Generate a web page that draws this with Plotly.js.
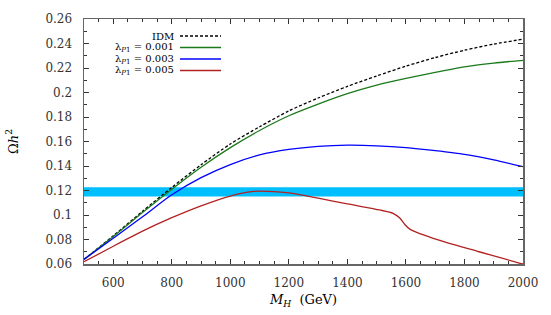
<!DOCTYPE html>
<html>
<head>
<meta charset="utf-8">
<script src="https://cdn.plot.ly/plotly-3.0.1.min.js"></script>
<style>html,body{margin:0;padding:0;background:#fff;}#chart{width:551px;height:315px;}</style>
</head>
<body>
<div id="chart"></div>
<script>
// Data
const idmM   = [500, 600, 700, 800, 900, 1000, 1100, 1200, 1300, 1400, 1500, 1600, 1700, 1800, 1900, 2000];
const idmOm  = [0.0638, 0.083, 0.103, 0.1225, 0.141, 0.158, 0.172, 0.185, 0.1955, 0.205, 0.2135, 0.2215, 0.2285, 0.2345, 0.2395, 0.2435];

const l001M  = [500, 600, 700, 800, 900, 1000, 1100, 1200, 1300, 1400, 1500, 1600, 1700, 1800, 1900, 2000];
const l001Om = [0.0638, 0.0825, 0.102, 0.121, 0.139, 0.155, 0.169, 0.181, 0.1905, 0.199, 0.206, 0.2115, 0.2165, 0.221, 0.224, 0.2263];

const l003M  = [500, 600, 700, 800, 900, 1000, 1100, 1200, 1300, 1400, 1500, 1600, 1700, 1800, 1900, 2000];
const l003Om = [0.0638, 0.081, 0.0985, 0.1165, 0.1305, 0.1412, 0.149, 0.1535, 0.156, 0.157, 0.1565, 0.155, 0.1525, 0.1495, 0.145, 0.1394];

const l005M  = [500, 600, 700, 800, 900, 1000, 1080, 1200, 1300, 1400, 1510, 1556, 1579, 1596, 1613, 1660, 1740, 1850, 1990, 2000];
const l005Om = [0.0618, 0.0745, 0.0868, 0.0978, 0.1075, 0.1155, 0.1193, 0.118, 0.1138, 0.109, 0.1041, 0.1014, 0.0975, 0.0922, 0.0885, 0.0837, 0.0774, 0.070, 0.0606, 0.060];

const bandLow = 0.1152, bandHigh = 0.1226;

const names  = ['IDM', 'λ<sub><i>P</i>1</sub> = 0.001', 'λ<sub><i>P</i>1</sub> = 0.003', 'λ<sub><i>P</i>1</sub> = 0.005'];
const colors = ['#000000', '#1a7a1a', '#0000ff', '#b22222'];
const dashes = ['3px,2px', 'solid', 'solid', 'solid'];
const xs = [idmM, l001M, l003M, l005M];
const ys = [idmOm, l001Om, l003Om, l005Om];

const font = 'DejaVu Serif';

const traces = xs.map((x, i) => ({
  x: x, y: ys[i], mode: 'lines', type: 'scatter', name: names[i],
  line: {color: colors[i], width: 1.3, dash: dashes[i], shape: 'spline', smoothing: 0.7},
  showlegend: false, hoverinfo: 'skip'
}));

// custom legend (text right-aligned, sample line on the right)
const legY = [0.9306, 0.8837, 0.8367, 0.7898];
const annotations = names.map((n, i) => ({
  xref: 'paper', yref: 'paper', x: 0.2096, y: legY[i], xanchor: 'right', yanchor: 'middle',
  text: n, showarrow: false, font: {family: font, size: 10, color: '#000'}
}));
const shapes = [{
  type: 'rect', xref: 'paper', yref: 'y', x0: 0, x1: 1, y0: bandLow, y1: bandHigh,
  fillcolor: '#00bfff', line: {width: 0}, layer: 'below'
}].concat(names.map((n, i) => ({
  type: 'line', xref: 'paper', yref: 'paper', x0: 0.2187, x1: 0.3121, y0: legY[i], y1: legY[i],
  line: {color: colors[i], width: 1.3, dash: dashes[i]}
})));

const axisCommon = {
  showgrid: false, zeroline: false, showline: true, mirror: 'allticks',
  linecolor: '#666', linewidth: 1.5, ticks: 'inside', ticklen: 5, tickcolor: '#333', tickwidth: 1,
  tickfont: {family: font, size: 12, color: '#333'}
};

const layout = {
  width: 551, height: 315,
  font: {family: font},
  margin: {l: 84, r: 28, t: 19, b: 51},
  paper_bgcolor: '#fff', plot_bgcolor: '#fff',
  xaxis: Object.assign({}, axisCommon, {
    range: [500, 2000], tickvals: [600, 800, 1000, 1200, 1400, 1600, 1800, 2000],
    minor: {dtick: 50, tick0: 500, ticks: 'inside', ticklen: 3, tickcolor: '#333'},
    ticklabelstandoff: 7,
    title: {text: '<i>M</i><sub><i>H</i></sub>  (GeV)', font: {family: font, size: 13, color: '#000'}, standoff: 6}
  }),
  yaxis: Object.assign({}, axisCommon, {
    range: [0.06, 0.26], dtick: 0.02, tick0: 0.06, tickformat: '~g',
    minor: {dtick: 0.01, ticks: 'inside', ticklen: 3, tickcolor: '#333'},
    ticklabelstandoff: 8,
    title: {text: 'Ω<i>h</i><sup>2</sup>', font: {family: font, size: 13, color: '#000'}, standoff: 24}
  }),
  annotations: annotations,
  shapes: shapes
};

Plotly.newPlot('chart', traces, layout, {staticPlot: true, displayModeBar: false});
</script>
</body>
</html>
